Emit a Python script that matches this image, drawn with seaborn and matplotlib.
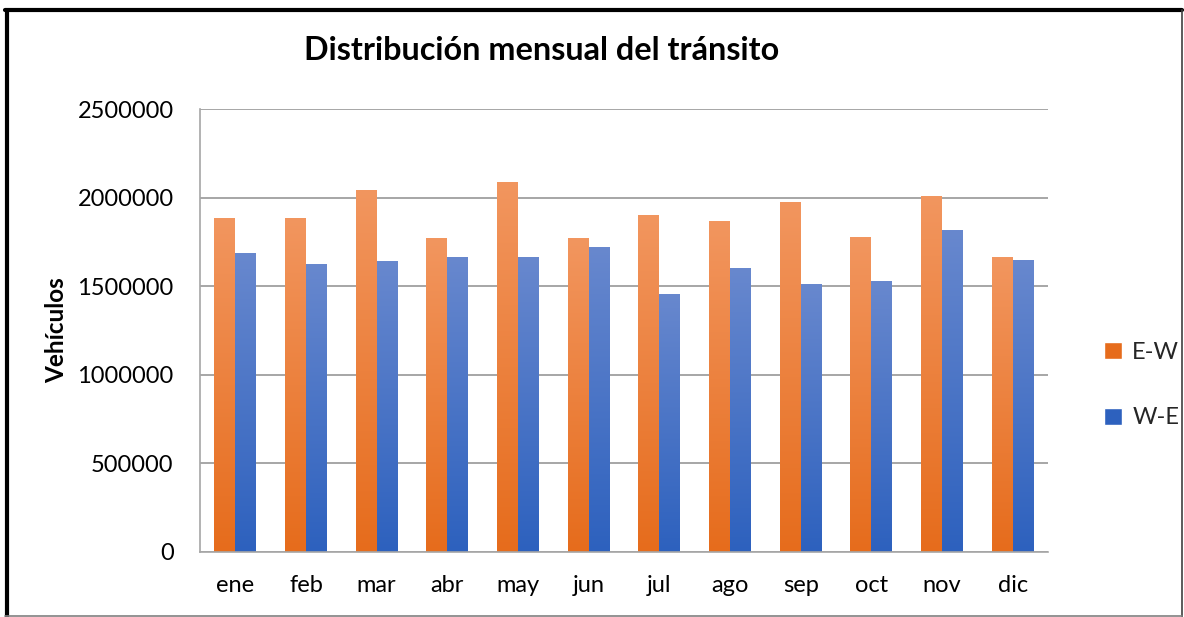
import numpy as np
import pandas as pd
import matplotlib
matplotlib.use("Agg")
import matplotlib.pyplot as plt
import seaborn as sns
from matplotlib.colors import LinearSegmentedColormap, to_rgb
from matplotlib.patches import Patch
from matplotlib.lines import Line2D

# ---- data ----
months = ["ene", "feb", "mar", "abr", "may", "jun", "jul", "ago", "sep", "oct", "nov", "dic"]
ew = [1882000, 1887000, 2045000, 1769000, 2090000, 1769000, 1904000, 1865000, 1977000, 1775000, 2006000, 1662000]
we = [1684000, 1622000, 1639000, 1667000, 1667000, 1718000, 1453000, 1600000, 1510000, 1527000, 1814000, 1650000]
series = ["E-W", "W-E"]
yticks = [0, 500000, 1000000, 1500000, 2000000, 2500000]
title = "Distribución mensual del tránsito"
ylabel = "Vehículos"

df = pd.DataFrame({
    "mes": months * 2,
    "veh": ew + we,
    "dir": [series[0]] * len(months) + [series[1]] * len(months),
})

sns.set_theme(style="white")
plt.rcParams["font.family"] = ["Lato", "DejaVu Sans"]

W, H = 1184, 617
fig = plt.figure(figsize=(W / 100, H / 100), dpi=100)
left, right, top, bottom = 200, 1048, 109, 551.7
ax = fig.add_axes([left / W, 1 - bottom / H, (right - left) / W, (bottom - top) / H])

base = {"E-W": "#ED7D31", "W-E": "#4472C4"}
grad = {
    "E-W": ("#E66C1C", "#F2965F"),  # bottom, top
    "W-E": ("#2D61BE", "#6888CE"),
}
sns.barplot(data=df, x="mes", y="veh", hue="dir", palette=base, width=0.594,
            gap=0, legend=False, ax=ax, saturation=1, errorbar=None)

ax.set_ylim(0, 2500000)
ax.set_yticks(yticks)
ax.set_yticklabels([str(v) for v in yticks])
xl = ax.get_xlim()

# gradient fill for each bar
gimg = np.linspace(0, 1, 256).reshape(-1, 1)
for p in list(ax.patches):
    fc = p.get_facecolor()[:3]
    key = min(base, key=lambda k: sum((a - b) ** 2 for a, b in zip(to_rgb(base[k]), fc)))
    cmap = LinearSegmentedColormap.from_list(key, [grad[key][0], grad[key][1]])
    bb = p.get_bbox()
    im = ax.imshow(gimg, extent=[bb.x0, bb.x1, bb.y0, bb.y1], origin="lower",
                   aspect="auto", cmap=cmap, zorder=p.get_zorder(), interpolation="bilinear")
    im.set_clip_path(p)
    p.set_facecolor("none")
    p.set_edgecolor("none")

ax.set_xlim(xl)
ax.set_ylim(0, 2500000)
ax.set_aspect("auto")

ax.yaxis.grid(True, color="#A6A6A6", lw=1.4)
ax.set_axisbelow(True)
for s in ["top", "right"]:
    ax.spines[s].set_visible(False)
for s in ["left", "bottom"]:
    ax.spines[s].set_color("#A6A6A6")
    ax.spines[s].set_linewidth(1.2)
ax.tick_params(axis="both", length=0, labelsize=17, colors="black")
ax.tick_params(axis="y", pad=19)
ax.tick_params(axis="x", pad=17)
ax.set_xlabel("")
ax.set_ylabel(ylabel, fontweight="bold", fontsize=17.5, color="black")
ax.yaxis.set_label_coords((68 - left) / (right - left), 0.5)

fig.text(542 / W, 1 - 50 / H, title, fontsize=23.3, fontweight="bold",
         ha="center", va="center", color="black")

handles = [Patch(facecolor=grad[s][0], label=s) for s in series]
ax.legend(handles=handles, loc="center left",
          bbox_to_anchor=(1104 / W, 1 - 385 / H), bbox_transform=fig.transFigure,
          frameon=False, handlelength=0.75, handleheight=0.75, handletextpad=0.45,
          labelspacing=1.9, fontsize=17, borderpad=0, borderaxespad=0)

# outer frame
fig.add_artist(Line2D([5 / W, 1182 / W], [1 - 9.5 / H, 1 - 9.5 / H], transform=fig.transFigure, color="black", lw=3))
fig.add_artist(Line2D([6.5 / W, 6.5 / W], [0, 1 - 9.5 / H], transform=fig.transFigure, color="black", lw=3))
fig.add_artist(Line2D([1181.5 / W, 1181.5 / W], [0, 1 - 9.5 / H], transform=fig.transFigure, color="#404040", lw=1.2))
fig.add_artist(Line2D([5 / W, 1182 / W], [1 - 616 / H, 1 - 616 / H], transform=fig.transFigure, color="#808080", lw=1.2))

fig.savefig("out.png", dpi=100)
